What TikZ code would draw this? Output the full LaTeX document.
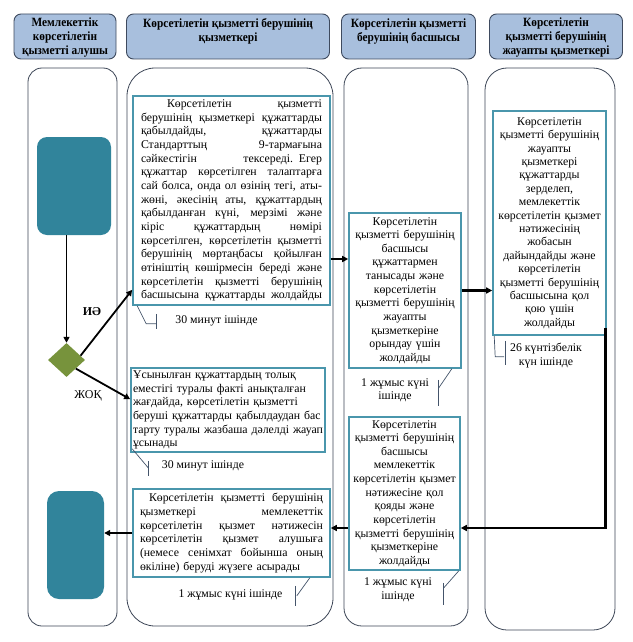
\documentclass[tikz,border=0pt]{standalone}
\usepackage{fontspec}
\setmainfont{Liberation Serif}
\newfontfamily\hdrfont[FakeStretch=0.9]{Liberation Serif}
\usetikzlibrary{shapes.geometric,arrows.meta,calc}
\definecolor{teal1}{HTML}{31849B}
\definecolor{boxc}{HTML}{4A96AC}
\definecolor{hdrfill}{HTML}{A8BFDD}
\definecolor{hdrdraw}{HTML}{3E4A5E}
\definecolor{lanec}{HTML}{3C4556}
\definecolor{olive}{HTML}{77933C}
\definecolor{callc}{HTML}{44546A}
\newcommand{\jl}[1]{\hbox to \hsize{\spaceskip=0.25em plus 1fil minus 0.1em\relax #1}}
\newcommand{\nl}[1]{\hbox to \hsize{#1\hfil}}
\begin{document}
\begin{tikzpicture}[x=1pt,y=-1pt,
  hdr/.style={draw=hdrdraw, fill=hdrfill, line width=0.9pt, rounded corners=7pt, inner sep=0pt},
  hdrtxt/.style={font=\hdrfont\bfseries\fontsize{12.6}{13.8}\selectfont, align=center, inner sep=0pt},
  lane/.style={draw=lanec, line width=0.8pt},
  tbox/.style={draw=boxc, line width=1.6pt, fill=white, inner ysep=0pt, font=\fontsize{11.8}{13.65}\selectfont},
  term/.style={fill=teal1, rounded corners=10pt, inner sep=0pt},
  arr/.style={-{Triangle[length=6pt,width=6pt]}, line width=1.8pt},
  callout/.style={draw=callc, line width=0.7pt},
  ctext/.style={font=\fontsize{11.8}{13.5}\selectfont, align=center, inner sep=0pt}]
\useasboundingbox (0,0) rectangle (632,642);

% headers
\node[hdr, minimum width=102pt, minimum height=45pt] (h1) at (65,36.5) {};
\node[hdr, minimum width=203pt, minimum height=45pt] (h2) at (228,36.5) {};
\node[hdr, minimum width=134pt, minimum height=45pt] (h3) at (408.5,36.5) {};
\node[hdr, minimum width=133pt, minimum height=45pt] (h4) at (556,36.5) {};
\node[hdrtxt] (h1t) at (65,37.5) {Мемлекеттік\\көрсетілетін\\қызметті алушы};
\node[hdrtxt] (h2t) at (228,31.5) {Көрсетілетін қызметті берушінің\\қызметкері};
\node[hdrtxt] (h3t) at (408.5,31.5) {Көрсетілетін қызметті\\берушінің басшысы};
\node[hdrtxt] (h4t) at (556,37.5) {Көрсетілетін\\қызметті берушінің\\жауапты қызметкері};

% lanes
\draw[lane, rounded corners=14pt] (28,68) rectangle (117,626);
\draw[lane, rounded corners=28pt] (127,68) rectangle (333,626);
\draw[lane, rounded corners=18pt] (344,68) rectangle (468,626);
\draw[lane, rounded corners=22pt] (485,68) rectangle (615,630);

% terminals and decision
\node[term, minimum width=74pt, minimum height=98pt] (start) at (74,186) {};
\node[term, rounded corners=12pt, minimum width=57pt, minimum height=108pt] (endn) at (75.5,545) {};
\node[shape=diamond, fill=olive, minimum width=37pt, minimum height=34pt, inner sep=0pt, aspect=1.09] (dia) at (66.5,360) {};

% boxes
\node[tbox, text width=181pt, minimum width=197pt, minimum height=209pt, inner xsep=8pt, align=left] (box1) at (231.5,200.5) {%
\jl{\hspace*{26pt}Көрсетілетін қызметті}
\jl{берушінің қызметкері құжаттарды}
\jl{қабылдайды, құжаттарды}
\jl{Стандарттың 9-тармағына}
\jl{сәйкестігін тексереді. Егер}
\jl{құжаттар көрсетілген талаптарға}
\jl{сай болса, онда ол өзінің тегі, аты-}
\jl{жөні, әкесінің аты, құжаттардың}
\jl{қабылданған күні, мерзімі және}
\jl{кіріс құжаттардың нөмірі}
\jl{көрсетілген, көрсетілетін қызметті}
\jl{берушінің мөртаңбасы қойылған}
\jl{өтініштің көшірмесін береді және}
\jl{көрсетілетін қызметті берушінің}
\jl{басшысына құжаттарды жолдайды}};

\node[tbox, text width=190pt, minimum width=194pt, minimum height=84pt, inner xsep=2pt, align=left] (box2) at (228,410) {%
\nl{Ұсынылған құжаттардың толық}
\nl{еместігі туралы факті анықталған}
\nl{жағдайда, көрсетілетін қызметті}
\nl{беруші құжаттарды қабылдаудан бас}
\nl{тарту туралы жазбаша дәлелді жауап}
\nl{ұсынады}};

\node[tbox, text width=183pt, minimum width=197pt, minimum height=88pt, inner xsep=7pt, align=left] (box3) at (231.5,533) {%
\jl{\hspace*{9pt}Көрсетілетін қызметті берушінің}
\jl{қызметкері мемлекеттік}
\jl{көрсетілетін қызмет нәтижесін}
\jl{көрсетілетін қызмет алушыға}
\jl{(немесе сенімхат бойынша оның}
\nl{өкіліне) беруді жүзеге асырады}};

\node[tbox, text width=108pt, minimum width=112pt, minimum height=155pt, inner xsep=2pt, align=center] (box4) at (405,290.5) {%
Көрсетілетін\\қызметті берушінің\\басшысы\\құжаттармен\\танысады және\\көрсетілетін\\қызметті берушінің\\жауапты\\қызметкеріне\\орындау үшін\\жолдайды};

\node[tbox, text width=109pt, minimum width=113pt, minimum height=224pt, inner xsep=2pt, align=center, font=\fontsize{11.8}{13.4}\selectfont] (box5) at (549.5,223) {%
Көрсетілетін\\қызметті берушінің\\жауапты\\қызметкері\\құжаттарды\\зерделеп,\\мемлекеттік\\көрсетілетін қызмет\\нәтижесінің\\жобасын\\дайындайды және\\көрсетілетін\\қызметті берушінің\\басшысына қол\\қою үшін\\жолдайды};

\node[tbox, text width=107pt, minimum width=111pt, minimum height=153pt, inner xsep=2pt, align=center] (box6) at (404.5,493.5) {%
Көрсетілетін\\қызметті берушінің\\басшысы\\мемлекеттік\\көрсетілетін қызмет\\нәтижесіне қол\\қояды және\\көрсетілетін\\қызметті берушінің\\қызметкеріне\\жолдайды};

% labels
\node[font=\bfseries\fontsize{12}{12}\selectfont, inner sep=0pt] (yes) at (92,312) {ИӘ};
\node[font=\fontsize{12}{12}\selectfont, inner sep=0pt] (no) at (88,396) {ЖОҚ};

% callouts
\draw[callout] (box1.south west) ++(5,0) -- ++(9,18) -- ++(10,0);
\draw[callout] ($(box1.south west)+(24,8)$) -- ++(0,15);
\node[ctext] (t1) at (216.5,321) {30 минут ішінде};

\draw[callout] ($(box2.south west)+(2,-4)$) -- ++(16,19);
\draw[callout] ($(box2.south west)+(18,8)$) -- ++(0,15);
\node[ctext] (t2) at (203,466) {30 минут ішінде};

\draw[callout] (box3.south east) ++(-21,0) -- ++(-13,18);
\draw[callout] ($(box3.south east)+(-35,8)$) -- ++(0,20);
\node[ctext] (t3) at (230.5,595) {1 жұмыс күні ішінде};

\draw[callout] (box4.south east) ++(-10,0) -- ++(-13,19);
\draw[callout] ($(box4.south east)+(-23,11)$) -- ++(0,26);
\node[ctext, font=\fontsize{11.8}{13}\selectfont] (t4) at (395,390) {1 жұмыс күні\\ішінде};

\draw[callout] (box5.south west) ++(2,0) -- ++(1,21) -- ++(9,0);
\draw[callout] ($(box5.south west)+(13,5)$) -- ++(0,24);
\node[ctext, font=\fontsize{11.8}{14}\selectfont] (t5) at (546,356) {26 күнтізбелік\\күн ішінде};

\draw[callout] (box6.south east) ++(-2,0) -- ++(-15,17);
\draw[callout] ($(box6.south east)+(-17,12)$) -- ++(0,22);
\node[ctext, font=\fontsize{11.8}{14}\selectfont] (t6) at (398,590) {1 жұмыс күні\\ішінде};

% connectors
\coordinate (a14) at (340,259);
\coordinate (turn) at (605.5,528);
\draw[arr, line width=1.5pt] (start.south -| dia.north) -- (dia.north);
\draw[arr] ($(dia.north east)!0.5!(dia.east)$) -- ($(box1.south west)+(0,-16)$);
\draw[arr] (dia.south east) -- ($(box2.north west)+(0,32)$);
\draw[arr] (box1.east |- a14) -- (box4.west |- a14);
\draw[arr, line width=2.3pt] (box4.east) -- (box4.east -| box5.west);
\draw[arr, line width=2.6pt, line join=miter] ($(turn |- box5.south)+(0,-8)$) -- (turn) -- (turn -| box6.east);
\draw[arr] (box6.west |- turn) -- (box3.east |- turn);
\draw[arr] (box3.west) -- (box3.west -| endn.east);
\end{tikzpicture}
\end{document}
